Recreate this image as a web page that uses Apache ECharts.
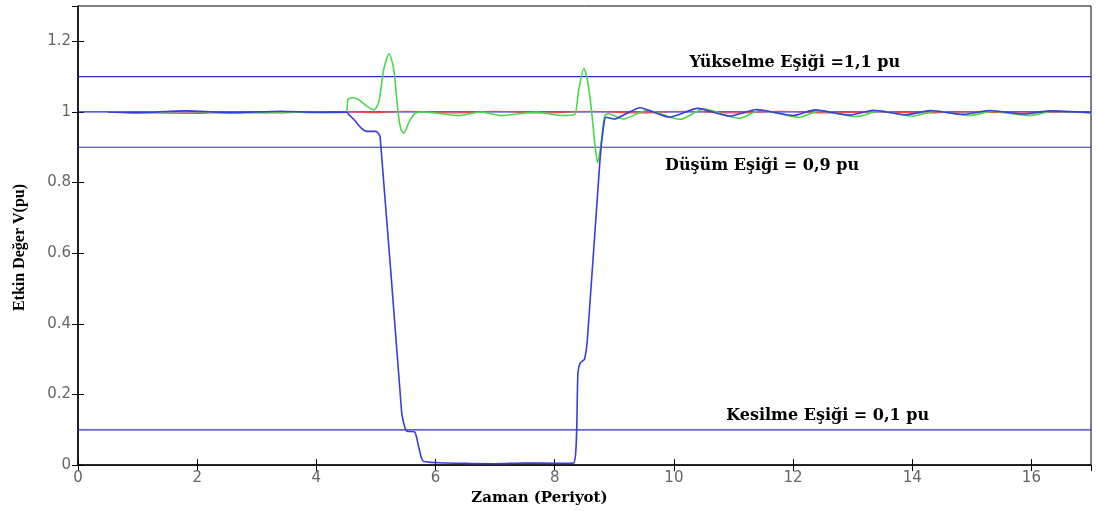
<!DOCTYPE html>
<html>
<head>
<meta charset="utf-8">
<script src="https://cdn.jsdelivr.net/npm/echarts@6/dist/echarts.min.js"></script>
<style>
  html, body { margin: 0; padding: 0; background: #fff; }
  #chart { width: 1096px; height: 511px; }
</style>
</head>
<body>
<div id="chart"></div>
<script>
// esik degerleri (pu)
var thresholds = [1.1, 1.0, 0.9, 0.1];
var thresholdTexts = ['Yükselme Eşiği =1,1 pu', 'Düşüm Eşiği = 0,9 pu', 'Kesilme Eşiği = 0,1 pu'];
var textX = [12.03, 11.48, 12.58];
var textY = [1.138, 0.846, 0.14];

// referans (kirmizi)
var refLine = [
  [0.5, 1.0], [1.2, 0.997], [1.9, 0.996], [2.6, 0.999], [3.3, 0.997], [4.0, 1.0], [4.6, 1.0],
  [5.0, 0.998], [5.5, 1.002], [6.3, 0.997], [7.0, 1.002], [7.8, 0.997], [8.6, 1.002],
  [9.4, 0.997], [10.2, 1.002], [11.0, 0.997], [11.8, 1.002], [12.6, 0.997], [13.4, 1.001],
  [14.2, 0.997], [15.0, 1.001], [15.8, 0.997], [16.6, 1.001], [17.0, 0.999]
];

// yesil
var greenLine = [
  [0.5, 1.0], [1.0, 0.998], [1.8, 1.002], [2.6, 0.997], [3.4, 1.0], [4.0, 0.998], [4.5, 1.0],
  [4.53, 1.035], [4.6, 1.04], [4.7, 1.036], [4.85, 1.016], [4.97, 1.006], [5.05, 1.03],
  [5.13, 1.12], [5.22, 1.165], [5.3, 1.12], [5.37, 1.0], [5.42, 0.95], [5.47, 0.94],
  [5.55, 0.97], [5.65, 0.995], [5.75, 1.0], [6.0, 0.997], [6.4, 0.99], [6.75, 1.0],
  [7.1, 0.99], [7.7, 1.0], [8.1, 0.99], [8.33, 0.992], [8.4, 1.06], [8.49, 1.123],
  [8.56, 1.08], [8.62, 1.0], [8.68, 0.9], [8.72, 0.856], [8.77, 0.9], [8.84, 0.99],
  [8.9, 0.995], [9.15, 0.98], [9.55, 1.005], [10.1, 0.979], [10.5, 1.008], [11.1, 0.982],
  [11.45, 1.005], [12.1, 0.985], [12.45, 1.003], [13.07, 0.987], [13.45, 1.003],
  [14.0, 0.988], [14.4, 1.002], [14.97, 0.99], [15.35, 1.002], [15.97, 0.99],
  [16.35, 1.002], [17.0, 0.997]
];

// mavi (olculen)
var blueLine = [
  [0.5, 1.0], [1.0, 0.998], [1.8, 1.003], [2.6, 0.998], [3.4, 1.002], [4.0, 0.999], [4.5, 1.0],
  [4.56, 0.99], [4.65, 0.975], [4.75, 0.955], [4.85, 0.945], [5.0, 0.945], [5.07, 0.93],
  [5.43, 0.152], [5.48, 0.11], [5.52, 0.096],
  [5.65, 0.094], [5.72, 0.05], [5.8, 0.01], [6.5, 0.005], [7.0, 0.004], [7.5, 0.006],
  [8.0, 0.005], [8.32, 0.006], [8.39, 0.26], [8.43, 0.29], [8.5, 0.3],
  [8.55, 0.36], [8.76, 0.865], [8.82, 0.96], [8.86, 0.985], [9.0, 0.98],
  [9.2, 0.995], [9.43, 1.012], [9.93, 0.985], [10.4, 1.01], [10.94, 0.988], [11.39, 1.007],
  [12.0, 0.99], [12.37, 1.006], [12.95, 0.991], [13.34, 1.005], [13.9, 0.992],
  [14.3, 1.004], [14.85, 0.993], [15.3, 1.004], [15.86, 0.994], [16.3, 1.003], [17.0, 0.998]
];

var xMin = 0, xMax = 17, xStep = 2;
var yMin = 0, yMax = 1.3, yStep = 0.2;

var myChart = echarts.init(document.getElementById('chart'));

var tickLabel = { color: '#666', fontFamily: 'DejaVu Sans', fontSize: 15, showMaxLabel: false };
var tick = { show: true, inside: true, length: 6, lineStyle: { color: '#000' } };

var series = [];
thresholds.forEach(function (t) {
  series.push({
    type: 'line', data: [[xMin, t], [xMax, t]], symbol: 'none', silent: true,
    lineStyle: { color: '#2a2ad8', width: 1.2 }
  });
});
series.push({ type: 'line', data: refLine, symbol: 'none', smooth: 0.3, lineStyle: { color: '#f04848', width: 1.2 } });
series.push({ type: 'line', data: greenLine, symbol: 'none', smooth: 0.25, lineStyle: { color: '#4ad84a', width: 1.6 } });
series.push({ type: 'line', data: blueLine, symbol: 'none', smooth: 0.2, lineStyle: { color: '#3b3be0', width: 1.6 } });
series.push({
  type: 'scatter', symbolSize: 0, silent: true,
  itemStyle: { opacity: 1 },
  data: thresholdTexts.map(function (s, i) { return { value: [textX[i], textY[i]], name: s }; }),
  label: {
    show: true, position: 'inside', formatter: '{b}', color: '#000', opacity: 1,
    fontFamily: 'DejaVu Serif', fontWeight: 'bold', fontSize: 16
  }
});

var option = {
  backgroundColor: '#fff',
  animation: false,
  grid: { left: 78, right: 5, top: 6, bottom: 44, show: true, borderColor: '#000', borderWidth: 1 },
  xAxis: [{
    type: 'value', min: xMin, max: xMax, interval: xStep,
    axisLine: { lineStyle: { color: '#000', width: 1.5 } }, axisTick: tick,
    axisLabel: Object.assign({ margin: 6 }, tickLabel), splitLine: { show: false },
    name: 'Zaman (Periyot)', nameLocation: 'middle', nameGap: 25,
    nameTextStyle: { color: '#000', fontFamily: 'DejaVu Serif', fontWeight: 'bold', fontSize: 15, padding: [0, 90, 0, 0] }
  }, {
    type: 'value', position: 'top', min: xMin, max: xMax, interval: xStep,
    axisLine: { show: false }, axisTick: tick, axisLabel: { show: false }, splitLine: { show: false }
  }],
  yAxis: [{
    type: 'value', min: yMin, max: yMax, interval: yStep,
    axisLine: { show: true, lineStyle: { color: '#000', width: 1.5 } }, axisTick: tick,
    axisLabel: Object.assign({ margin: 7 }, tickLabel), splitLine: { show: false },
    name: 'Etkin Değer V(pu)', nameLocation: 'middle', nameGap: 50, nameRotate: 90,
    nameTextStyle: { color: '#000', fontFamily: 'Liberation Serif', fontWeight: 'bold', fontSize: 16, padding: [0, 24, 0, 0] }
  }, {
    type: 'value', position: 'right', min: yMin, max: yMax, interval: yStep,
    axisLine: { show: false }, axisTick: tick, axisLabel: { show: false }, splitLine: { show: false }
  }],
  series: series
};

myChart.setOption(option);
window.addEventListener('resize', function () { myChart.resize(); });
</script>
</body>
</html>
